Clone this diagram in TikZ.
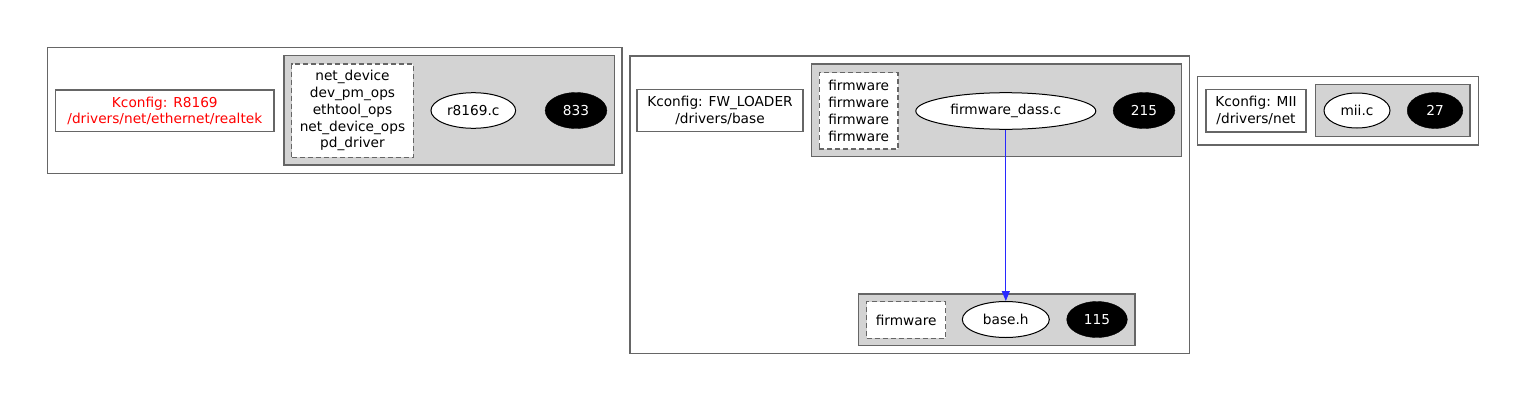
\documentclass[tikz,border=0pt]{standalone}
\usepackage{fontspec}
\setmainfont{DejaVu Sans}
\usetikzlibrary{arrows.meta,shapes.geometric}
\definecolor{edgegray}{HTML}{666666}
\definecolor{fillgray}{HTML}{D3D3D3}
\definecolor{depblue}{HTML}{2828FF}
\begin{document}
\begin{tikzpicture}[x=1pt,y=-1pt,
  every node/.style={font=\fontsize{13.7}{16.8}\selectfont, inner sep=0pt, align=center},
  outer/.style={draw=edgegray, line width=1.4pt, rectangle},
  grp/.style={draw=edgegray, fill=fillgray, line width=1.4pt, rectangle},
  kbox/.style={draw=edgegray, fill=white, line width=1.4pt, rectangle},
  dbox/.style={draw=edgegray, fill=white, line width=1.4pt, rectangle, dash pattern=on 5pt off 3pt},
  file/.style={draw=black, fill=white, line width=1pt, ellipse},
  count/.style={draw=black, fill=black, text=white, ellipse, minimum height=36},
  dep/.style={draw=depblue, line width=1.1pt, -{Triangle[length=10pt,width=8pt]}}
]
\useasboundingbox (0,0) rectangle (1526,402);
% left cluster
\node[outer, minimum width=574.5, minimum height=126] (c1) at (334.75,110.5) {};
\node[kbox, minimum width=218.3, minimum height=41.7, text=red] (k1) at (164.85,110.85) {Kconfig: R8169\\ /drivers/net/ethernet/realtek};
\node[grp, minimum width=330.3, minimum height=109.3] (g1) at (449.15,110.35) {};
\node[dbox, minimum width=121.6, minimum height=93.3] (d1) at (352.5,110.65) {net\_device\\dev\_pm\_ops\\ethtool\_ops\\net\_device\_ops\\pd\_driver};
\node[file, minimum width=84.7, minimum height=35.6] (f1) at (473.3,110.5) {r8169.c};
\node[count, minimum width=61.7] (n1) at (576,110.5) {833};
% middle cluster
\node[outer, minimum width=559.5, minimum height=297.3] (c2) at (909.75,204.65) {};
\node[kbox, minimum width=166, minimum height=42.4] (k2) at (720,110.5) {Kconfig: FW\_LOADER\\/drivers/base};
\node[grp, minimum width=370, minimum height=92.7] (g2) at (996.7,110.35) {};
\node[dbox, minimum width=78.7, minimum height=76.3] (d2) at (858.65,110.85) {firmware\\firmware\\firmware\\firmware};
\node[file, minimum width=180, minimum height=36.6] (f2) at (1005.8,111) {firmware\_dass.c};
\node[count, minimum width=61.7] (n2) at (1144,110.5) {215};
\node[grp, minimum width=276.7, minimum height=51.7] (g3) at (996.65,319.85) {};
\node[dbox, minimum width=79, minimum height=36.6] (d3) at (906.2,320) {firmware};
\node[file, minimum width=87, minimum height=36] (f3) at (1005.8,319.5) {base.h};
\node[count, minimum width=60.6] (n3) at (1097,319.5) {115};
\draw[dep] (f2) -- (f3);
% right cluster
\node[outer, minimum width=281, minimum height=68.3] (c3) at (1337.8,110.85) {};
\node[kbox, minimum width=100, minimum height=42.7] (k3) at (1256,110.65) {Kconfig: MII\\/drivers/net};
\node[grp, minimum width=154.3, minimum height=52.4] (g4) at (1392.85,110.5) {};
\node[file, minimum width=66, minimum height=35] (f4) at (1357,110.5) {mii.c};
\node[count, minimum width=55.6] (n4) at (1435,110.5) {27};
\end{tikzpicture}
\end{document}
